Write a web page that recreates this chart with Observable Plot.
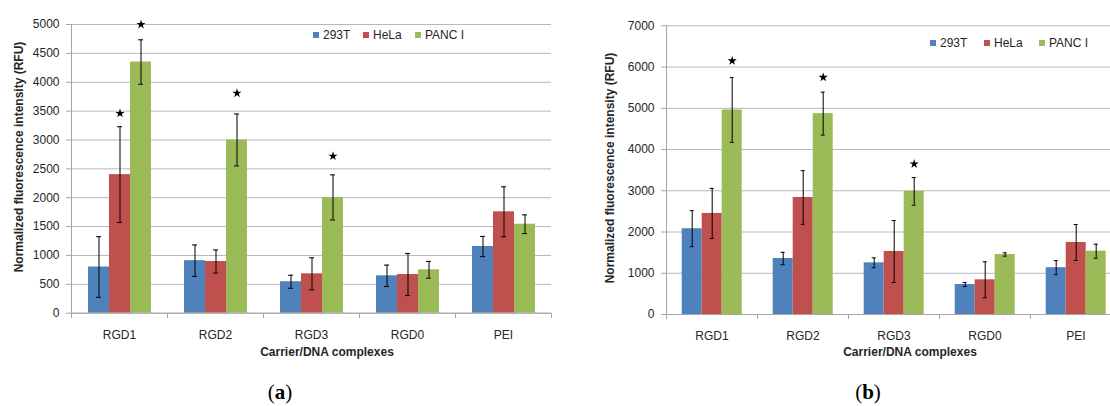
<!DOCTYPE html>
<html>
<head>
<meta charset="utf-8">
<script src="https://cdn.jsdelivr.net/npm/d3@7"></script>
<script src="https://cdn.jsdelivr.net/npm/@observablehq/plot@0.6"></script>
<style>
  html, body { margin: 0; padding: 0; background: #fff; }
  #wrap { position: relative; width: 1110px; height: 406px; overflow: hidden; font-family: "Liberation Sans", Arial, sans-serif; color: #262626; }
  .chart { position: absolute; top: 0; }
  .legend { position: absolute; font-size: 12px; line-height: 12px; white-space: nowrap; }
  .legend span.sw { display: inline-block; width: 6px; height: 6px; margin-right: 4px; vertical-align: 1px; }
  .ytitle { position: absolute; font-weight: bold; font-size: 12px; white-space: nowrap; transform: translate(-50%, -50%) rotate(-90deg); }
  .xtitle { position: absolute; font-weight: bold; font-size: 12px; white-space: nowrap; transform: translate(-50%, -50%); }
  .cap { position: absolute; font-family: "Liberation Serif", "DejaVu Serif", serif; font-size: 21px; color: #000; transform: translate(-50%, -50%); white-space: nowrap; }
  .cap b { font-weight: bold; }
</style>
</head>
<body>
<div id="wrap"></div>
<script>
// ---------- data ----------
const categories = ["RGD1", "RGD2", "RGD3", "RGD0", "PEI"];
const series = ["293T", "HeLa", "PANC I"];
const colors = ["#4F81BD", "#C0504D", "#9BBB59"];

// panel (a)
const a293T = [800, 910, 545, 648, 1155];
const a293TErr = [525, 272, 113, 185, 175];
const aHeLa = [2400, 895, 682, 670, 1756];
const aHeLaErr = [830, 200, 277, 365, 433];
const aPANC = [4350, 3000, 2005, 752, 1541];
const aPANCErr = [385, 450, 390, 145, 162];
const aStars = [
  {cat: "RGD1", series: "HeLa", y: 3460},
  {cat: "RGD1", series: "PANC I", y: 5000},
  {cat: "RGD2", series: "PANC I", y: 3810},
  {cat: "RGD3", series: "PANC I", y: 2720}
];
const aTicks = [0, 500, 1000, 1500, 2000, 2500, 3000, 3500, 4000, 4500, 5000];

// panel (b)
const b293T = [2080, 1358, 1253, 727, 1135];
const b293TErr = [437, 150, 120, 50, 170];
const bHeLa = [2450, 2837, 1528, 841, 1746];
const bHeLaErr = [607, 650, 750, 436, 436];
const bPANC = [4960, 4870, 2985, 1455, 1535];
const bPANCErr = [785, 520, 335, 40, 170];
const bStars = [
  {cat: "RGD1", series: "PANC I", y: 6150},
  {cat: "RGD2", series: "PANC I", y: 5750},
  {cat: "RGD3", series: "PANC I", y: 3650}
];
const bTicks = [0, 1000, 2000, 3000, 4000, 5000, 6000, 7000];

const yTitle = "Normalized fluorescence intensity (RFU)";
const xTitle = "Carrier/DNA complexes";

// ---------- build ----------
function rows(vals, errs) {
  const out = [];
  categories.forEach((c, i) => {
    series.forEach((s, j) => out.push({cat: c, series: s, value: vals[j][i], err: errs[j][i]}));
  });
  return out;
}

function makeChart(data, stars, ticks, m) {
  const yMax = ticks[ticks.length - 1];
  const chart = Plot.plot({
    width: m.width, height: 406,
    marginLeft: m.left, marginRight: m.right, marginTop: m.top, marginBottom: m.bottom,
    style: {fontFamily: "'Liberation Sans', Arial, sans-serif", fontSize: "12px", color: "#262626", background: "transparent", overflow: "visible"},
    fx: {domain: categories, padding: 0, label: null, tickSize: 0, tickPadding: 17},
    x: {domain: series, paddingInner: 0, paddingOuter: 0.75, axis: null},
    y: {domain: [0, yMax], label: null},
    color: {domain: series, range: colors},
    marks: [
      Plot.gridY(ticks, {stroke: "#b8b8b8", strokeOpacity: 1}),
      Plot.axisY(ticks, {tickSize: 5, tickPadding: 7, stroke: "#a6a6a6", label: null, tickFormat: d3.format("d")}),
      Plot.barY(data, {fx: "cat", x: "series", y: "value", fill: "series"}),
      Plot.ruleX(data, {fx: "cat", x: "series", y1: d => d.value - d.err, y2: d => d.value + d.err, stroke: "#000", strokeWidth: 1}),
      Plot.tickY(data, {fx: "cat", x: "series", y: d => d.value - d.err, stroke: "#000", insetLeft: 8, insetRight: 8}),
      Plot.tickY(data, {fx: "cat", x: "series", y: d => d.value + d.err, stroke: "#000", insetLeft: 8, insetRight: 8}),
      Plot.dot(stars, {fx: "cat", x: "series", y: "y", symbol: "star", fill: "#000", r: 2.9}),
      Plot.ruleY([0], {stroke: "#a6a6a6"})
    ]
  });
  // axis lines and category-boundary ticks, placed through the chart's own scales
  const fx = chart.scale("fx"), y = chart.scale("y");
  const svg = d3.select(chart);
  const x0 = fx.apply(categories[0]);
  const bounds = categories.map(c => fx.apply(c));
  bounds.push(fx.apply(categories[categories.length - 1]) + fx.bandwidth);
  const y0 = y.apply(0), y1 = y.apply(yMax);
  const g = svg.append("g").attr("stroke", "#a6a6a6").attr("shape-rendering", "crispEdges");
  g.append("line").attr("x1", x0).attr("x2", x0).attr("y1", y1).attr("y2", y0);
  bounds.forEach(b => g.append("line").attr("x1", b).attr("x2", b).attr("y1", y0).attr("y2", y0 + 5));
  chart.classList.add("chart");
  chart.style.left = m.offset + "px";
  return chart;
}

const wrap = document.getElementById("wrap");
wrap.append(makeChart(rows([a293T, aHeLa, aPANC], [a293TErr, aHeLaErr, aPANCErr]), aStars, aTicks,
  {width: 560, left: 69, right: 8, top: 24, bottom: 93.3, offset: 0}));
wrap.append(makeChart(rows([b293T, bHeLa, bPANC], [b293TErr, bHeLaErr, bPANCErr]), bStars, bTicks,
  {width: 565, left: 104.3, right: 2, top: 25.3, bottom: 92, offset: 560}));

// legends
function legend(xs, cy) {
  series.forEach((s, i) => {
    const d = document.createElement("div");
    d.className = "legend";
    d.style.left = xs[i] + "px";
    d.style.top = (cy - 6) + "px";
    d.innerHTML = `<span class="sw" style="background:${colors[i]}"></span>${s}`;
    wrap.append(d);
  });
}
legend([313, 363, 415], 35);
legend([930, 984, 1039], 43);

function addText(cls, html, x, y) {
  const d = document.createElement("div");
  d.className = cls;
  d.innerHTML = html;
  d.style.left = x + "px";
  d.style.top = y + "px";
  wrap.append(d);
}
addText("ytitle", yTitle, 19, 157);
addText("ytitle", yTitle, 610, 168);
addText("xtitle", xTitle, 327, 352);
addText("xtitle", xTitle, 910, 352);
addText("cap", "(<b>a</b>)", 280, 392);
addText("cap", "(<b>b</b>)", 868, 392);
</script>
</body>
</html>
